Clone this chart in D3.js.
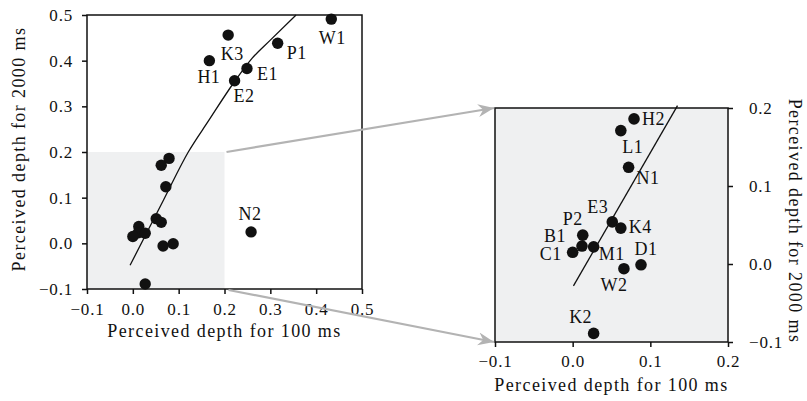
<!DOCTYPE html>
<html>
<head>
<meta charset="utf-8">
<script src="https://cdn.jsdelivr.net/npm/d3@7"></script>
<style>
  body { margin: 0; background: #fff; }
  svg text { font-family: "Liberation Serif", "Times New Roman", serif; fill: #111; }
  .tick text { font-size: 17px; letter-spacing: 0.8px; }
  .title { font-size: 18px; letter-spacing: 1.4px; }
  .lbl { font-size: 18px; letter-spacing: 0.5px; }
</style>
</head>
<body>
<svg id="chart" width="807" height="401"></svg>
<script>
// subjects and their perceived depth (100 ms vs 2000 ms presentation)
const names = ["W1", "K3", "P1", "H1", "E1", "E2", "N2", "H2", "L1", "N1", "E3", "K4", "P2", "B1", "C1", "M1", "D1", "W2", "K2"];
const depth100 = [0.433, 0.208, 0.316, 0.167, 0.249, 0.222, 0.258, 0.079, 0.062, 0.072, 0.051, 0.062, 0.013, 0.012, 0.000, 0.027, 0.088, 0.066, 0.027];
const depth2000 = [0.491, 0.456, 0.438, 0.400, 0.383, 0.356, 0.025, 0.186, 0.171, 0.124, 0.054, 0.046, 0.037, 0.023, 0.015, 0.022, -0.001, -0.006, -0.089];

// fitted curve as drawn in the overview, and in the inset
const fitX = [-0.006, 0.067, 0.121, 0.165, 0.219, 0.26, 0.30, 0.356];
const fitY = [-0.048, 0.095, 0.2, 0.268, 0.35, 0.405, 0.445, 0.5];
const insetFitX = [0.001, 0.135];
const insetFitY = [-0.028, 0.203];

const mainTicks = [-0.1, 0, 0.1, 0.2, 0.3, 0.4, 0.5];
const insetTicks = [-0.1, 0, 0.1, 0.2];

// label placement (dx, dy, anchor) next to each dot
const labelPos = {
  W1: [1, 25, "middle"], K3: [4, 25, "middle"], P1: [9, 16, "start"], H1: [11, 22, "end"],
  E1: [10, 12, "start"], E2: [-1, 21, "start"], N2: [-1, -12, "middle"],
  H2: [8, 6, "start"], L1: [12, 22, "middle"], N1: [8, 17, "start"], E3: [-4, -9, "end"],
  K4: [8, 5, "start"], P2: [0, -10, "end"], B1: [-16, -4, "end"], C1: [-11, 8, "end"],
  M1: [5, 13, "start"], D1: [5, -10, "middle"], W2: [-10, 22, "middle"], K2: [-13, -10, "middle"]
};

const pts = names.map((n, i) => ({name: n, x: depth100[i], y: depth2000[i]}));
const svg = d3.select("#chart");
const fmt = d3.format(".1f");
const shade = "#eff0f1";
const arrowGrey = "#b3b3b3";

svg.append("defs").append("marker")
  .attr("id", "head")
  .attr("viewBox", "-16 -8 18 16")
  .attr("markerWidth", 18).attr("markerHeight", 16)
  .attr("markerUnits", "userSpaceOnUse")
  .attr("refX", 0).attr("refY", 0)
  .attr("orient", "auto")
  .append("path")
  .attr("d", "M0,0 L-16,-6.5 L-11,0 L-16,6.5 Z")
  .attr("fill", arrowGrey);

// ---------- overview plot ----------
const x1 = d3.scaleLinear().domain([-0.1, 0.5]).range([87, 362]);
const y1 = d3.scaleLinear().domain([-0.1, 0.5]).range([289, 15]);
const g1 = svg.append("g");

g1.append("rect")
  .attr("x", x1(-0.1)).attr("y", y1(0.2))
  .attr("width", x1(0.2) - x1(-0.1)).attr("height", y1(-0.1) - y1(0.2))
  .attr("fill", shade);

g1.append("path")
  .datum(fitX.map((v, i) => [v, fitY[i]]))
  .attr("fill", "none").attr("stroke", "#111").attr("stroke-width", 1.3)
  .attr("d", d3.line().x(d => x1(d[0])).y(d => y1(d[1])).curve(d3.curveMonotoneX));

g1.selectAll("circle.dot")
  .data(pts)
  .enter().append("circle")
  .attr("class", "dot")
  .attr("cx", d => x1(d.x)).attr("cy", d => y1(d.y))
  .attr("r", 5.7).attr("fill", "#111");

g1.selectAll("text.lbl")
  .data(pts.filter(d => d.x > 0.2 || d.y > 0.2))
  .enter().append("text")
  .attr("class", "lbl")
  .attr("x", d => x1(d.x) + labelPos[d.name][0])
  .attr("y", d => y1(d.y) + labelPos[d.name][1])
  .attr("text-anchor", d => labelPos[d.name][2])
  .text(d => d.name);

g1.append("rect")
  .attr("x", x1(-0.1)).attr("y", y1(0.5))
  .attr("width", x1(0.5) - x1(-0.1)).attr("height", y1(-0.1) - y1(0.5))
  .attr("fill", "none").attr("stroke", "#111").attr("stroke-width", 1.5);

g1.append("g")
  .attr("transform", `translate(0,${y1(-0.1)})`)
  .call(d3.axisBottom(x1).tickValues(mainTicks).tickFormat(fmt).tickSize(5).tickSizeOuter(0).tickPadding(9))
  .call(a => a.select(".domain").remove());
g1.append("g")
  .attr("transform", `translate(${x1(-0.1)},0)`)
  .call(d3.axisLeft(y1).tickValues(mainTicks).tickFormat(fmt).tickSize(5).tickSizeOuter(0).tickPadding(9))
  .call(a => a.select(".domain").remove());

g1.append("text").attr("class", "title")
  .attr("x", (x1(-0.1) + x1(0.5)) / 2).attr("y", 337)
  .attr("text-anchor", "middle")
  .text("Perceived depth for 100 ms");
g1.append("text").attr("class", "title")
  .attr("transform", `translate(25,${(y1(-0.1) + y1(0.5)) / 2 - 3}) rotate(-90)`)
  .attr("text-anchor", "middle")
  .text("Perceived depth for 2000 ms");

// ---------- inset plot ----------
const x2 = d3.scaleLinear().domain([-0.1, 0.2]).range([495, 728]);
const y2 = d3.scaleLinear().domain([-0.1, 0.2]).range([342, 108]);
const g2 = svg.append("g");

g2.append("rect")
  .attr("x", x2(-0.1)).attr("y", y2(0.2))
  .attr("width", x2(0.2) - x2(-0.1)).attr("height", y2(-0.1) - y2(0.2))
  .attr("fill", shade);

g2.append("path")
  .datum(insetFitX.map((v, i) => [v, insetFitY[i]]))
  .attr("fill", "none").attr("stroke", "#111").attr("stroke-width", 1.3)
  .attr("d", d3.line().x(d => x2(d[0])).y(d => y2(d[1])));

const inset = pts.filter(d => d.x <= 0.2 && d.y <= 0.2);
g2.selectAll("circle.dot")
  .data(inset)
  .enter().append("circle")
  .attr("class", "dot")
  .attr("cx", d => x2(d.x)).attr("cy", d => y2(d.y))
  .attr("r", 5.8).attr("fill", "#111");

g2.selectAll("text.lbl")
  .data(inset)
  .enter().append("text")
  .attr("class", "lbl")
  .attr("x", d => x2(d.x) + labelPos[d.name][0])
  .attr("y", d => y2(d.y) + labelPos[d.name][1])
  .attr("text-anchor", d => labelPos[d.name][2])
  .text(d => d.name);

g2.append("rect")
  .attr("x", x2(-0.1)).attr("y", y2(0.2))
  .attr("width", x2(0.2) - x2(-0.1)).attr("height", y2(-0.1) - y2(0.2))
  .attr("fill", "none").attr("stroke", "#111").attr("stroke-width", 1.5);

g2.append("g")
  .attr("transform", `translate(0,${y2(-0.1)})`)
  .call(d3.axisBottom(x2).tickValues(insetTicks).tickFormat(fmt).tickSize(5).tickSizeOuter(0).tickPadding(8))
  .call(a => a.select(".domain").remove());
g2.append("g")
  .attr("transform", `translate(${x2(0.2)},0)`)
  .call(d3.axisRight(y2).tickValues(insetTicks).tickFormat(fmt).tickSize(5).tickSizeOuter(0).tickPadding(16))
  .call(a => a.select(".domain").remove());

g2.append("text").attr("class", "title")
  .attr("x", (x2(-0.1) + x2(0.2)) / 2).attr("y", 391)
  .attr("text-anchor", "middle")
  .text("Perceived depth for 100 ms");
g2.append("text").attr("class", "title")
  .attr("transform", `translate(789,${(y2(-0.1) + y2(0.2)) / 2 - 4}) rotate(90)`)
  .attr("text-anchor", "middle")
  .text("Perceived depth for 2000 ms");

// zoom arrows from the shaded region to the inset corners
svg.selectAll(".tick line").attr("stroke", "#111").attr("stroke-width", 1.5);
svg.selectAll(".tick text").attr("fill", "#111");
const arrows = [
  [[x1(0.2) + 2, y1(0.2)], [x2(-0.1) - 1, y2(0.2)]],
  [[x1(0.2) + 4, y1(-0.1) + 1], [x2(-0.1) - 1, y2(-0.1)]]
];
svg.selectAll("line.arrow")
  .data(arrows)
  .enter().append("line")
  .attr("class", "arrow")
  .attr("x1", d => d[0][0]).attr("y1", d => d[0][1])
  .attr("x2", d => d[1][0]).attr("y2", d => d[1][1])
  .attr("stroke", arrowGrey).attr("stroke-width", 2.2)
  .attr("marker-end", "url(#head)");
</script>
</body>
</html>
